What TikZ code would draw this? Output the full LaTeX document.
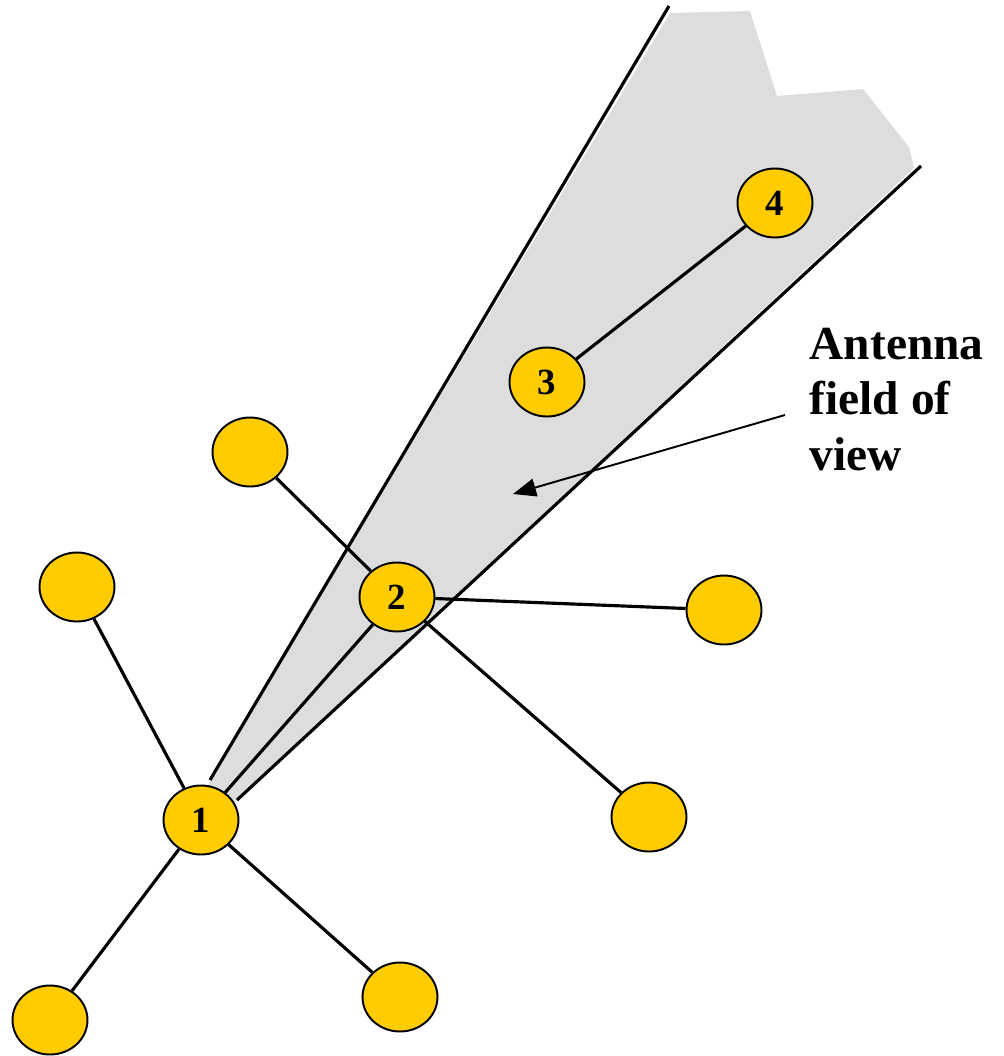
\documentclass[tikz,border=0pt]{standalone}
\usepackage{fontspec}
\setmainfont{Liberation Serif}
\definecolor{nodeyellow}{RGB}{255,204,0}
\definecolor{fovgray}{RGB}{221,221,221}
\tikzset{netfig/.style={x=0.02cm,y=-0.02cm,line width=1.8pt},
  station/.style={ellipse,draw,line width=1.1pt,fill=nodeyellow,minimum width=1.5cm,minimum height=1.38cm,inner sep=0pt,font=\fontsize{21}{21}\selectfont\bfseries},
  link/.style={line width=1.8pt}}
\usetikzlibrary{shapes.geometric,arrows.meta}

\begin{document}
\begin{tikzpicture}[netfig]
    \useasboundingbox (0,0) rectangle (1004,1056);
    % field of view wedge
    \coordinate (fovL) at (669,6);
    \coordinate (fovR) at (921,166);
    \coordinate (baseL) at (210,780);
    \coordinate (baseR) at (237,800);
    \fill[fovgray] (195,830) -- (baseL) -- (670,13) -- (750,11) -- (777,96) -- (863,89)
        -- (909,147) -- (914,168) -- (baseR) -- cycle;
    % stations
    \node[station] (n1) at (201,820) {1};
    \node[station] (n2) at (397,597) {2};
    \node[station] (n3) at (547,382) {3};
    \node[station] (n4) at (775,203) {4};
    \node[station] (a) at (250,452) {};
    \node[station] (b) at (77,587) {};
    \node[station] (c) at (724,610) {};
    \node[station] (d) at (649,817) {};
    \node[station] (e) at (400,997) {};
    \node[station] (f) at (50,1020) {};
    % wedge edges
    \draw (baseL) -- (fovL);
    \draw (baseR) -- (fovR);
    % links
    \foreach \s/\t in {n1/b,n1/f,n1/e,n1/n2,n2/a,n2/c,n2/d,n3/n4}
      \draw[link] (\s) -- (\t);
    % label
    \node[anchor=base west,align=left,inner sep=0pt,font=\fontsize{27}{31.5}\selectfont\bfseries] (lbl) at (808,470)
      {Antenna\\field of\\view};
    \coordinate (tail) at (785,415);
    \coordinate (tip) at (513,494);
    \draw[-{Triangle[length=0.46cm,width=0.36cm]},line width=1.1pt] (tail) -- (tip);
\end{tikzpicture}
\end{document}
